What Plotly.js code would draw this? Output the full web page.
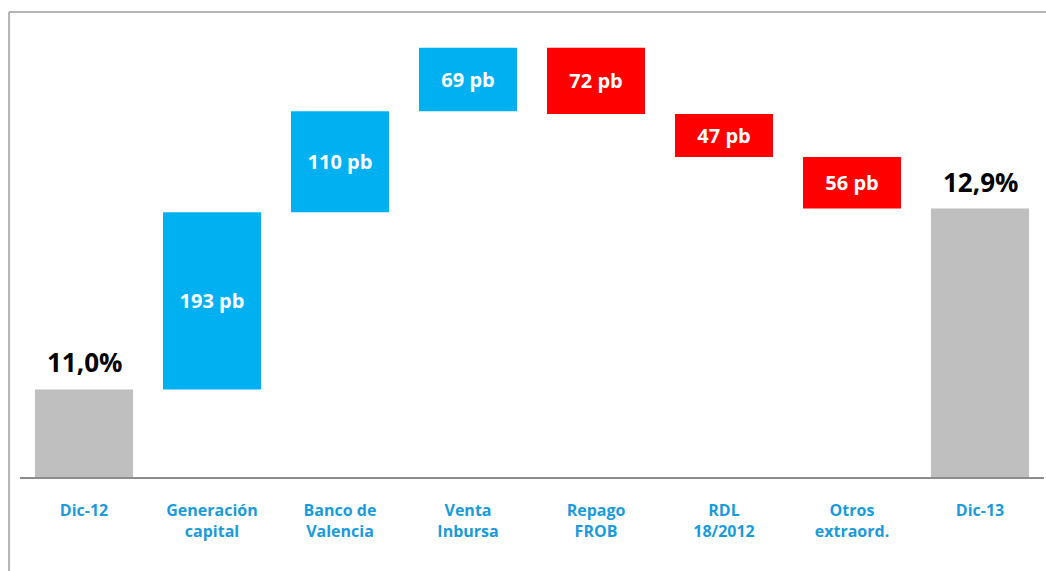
<!DOCTYPE html>
<html>
<head>
<meta charset="utf-8">
<script src="https://cdn.plot.ly/plotly-3.0.1.min.js"></script>
<style>
html,body{margin:0;padding:0;background:#fff;}
#chart{width:1046px;height:571px;}
</style>
</head>
<body>
<div id="chart"></div>
<script>
// Data (values in %; deltas in % = pb/100)
const categories = ['Dic-12', 'Generación<br>capital', 'Banco de<br>Valencia', 'Venta<br>Inbursa', 'Repago<br>FROB', 'RDL<br>18/2012', 'Otros<br>extraord.', 'Dic-13'];
const measures = ['absolute', 'relative', 'relative', 'relative', 'relative', 'relative', 'relative', 'total'];
const values = [11.0, 1.93, 1.10, 0.69, -0.72, -0.47, -0.56, 0];
const barLabels = ['', '193 pb', '110 pb', '69 pb', '72 pb', '47 pb', '56 pb', ''];
const totalLabels = ['11,0%', '', '', '', '', '', '', '12,9%'];

const FONT = 'Open Sans, Noto Sans, sans-serif';

// running level (top of total bars) for placing the total labels
const levels = [];
let run = 0;
measures.forEach((m, i) => {
  if (m === 'absolute') run = values[i];
  else if (m === 'relative') run += values[i];
  levels.push(run);
});

const trace = {
  type: 'waterfall',
  x: categories,
  y: values,
  measure: measures,
  text: barLabels,
  textposition: 'inside',
  texttemplate: '%{text}',
  insidetextfont: {family: FONT, size: 20, color: '#ffffff', weight: 'bold'},
  insidetextanchor: 'middle',
  constraintext: 'none',
  cliponaxis: false,
  connector: {visible: false},
  increasing: {marker: {color: '#00B0F0'}},
  decreasing: {marker: {color: '#FF0000'}},
  totals: {marker: {color: '#BFBFBF'}},
  hoverinfo: 'none'
};

const annotations = [];
totalLabels.forEach((t, i) => {
  if (!t) return;
  annotations.push({
    x: categories[i], y: levels[i], xref: 'x', yref: 'y',
    text: t, showarrow: false, yanchor: 'bottom', yshift: 7,
    font: {family: FONT, size: 26, color: '#000000', weight: 'bold'}
  });
});

const layout = {
  width: 1046,
  height: 571,
  margin: {l: 20, r: 2, t: 12, b: 94},
  paper_bgcolor: '#ffffff',
  plot_bgcolor: '#ffffff',
  showlegend: false,
  waterfallgap: 0.234,
  font: {family: FONT},
  xaxis: {
    type: 'category',
    showline: true,
    linecolor: '#8C8C8C',
    linewidth: 2,
    showgrid: false,
    zeroline: false,
    ticks: '',
    ticklabelstandoff: 18,
    tickfont: {family: FONT, size: 16, color: '#1A9BD7', weight: 'bold'}
  },
  yaxis: {
    range: [10.047, 15.11],
    visible: false,
    showgrid: false,
    zeroline: false
  },
  annotations: annotations,
  shapes: [
    {type: 'line', xref: 'paper', yref: 'paper', x0: -0.0107, x1: 1.05, y0: 1.0, y1: 1.0,
     line: {color: '#B4B4B4', width: 2}},
    {type: 'line', xref: 'paper', yref: 'paper', x0: -0.0107, x1: -0.0107, y0: 1.0, y1: -0.3,
     line: {color: '#B4B4B4', width: 2}}
  ]
};

Plotly.newPlot('chart', [trace], layout, {displayModeBar: false, staticPlot: true});
</script>
</body>
</html>
